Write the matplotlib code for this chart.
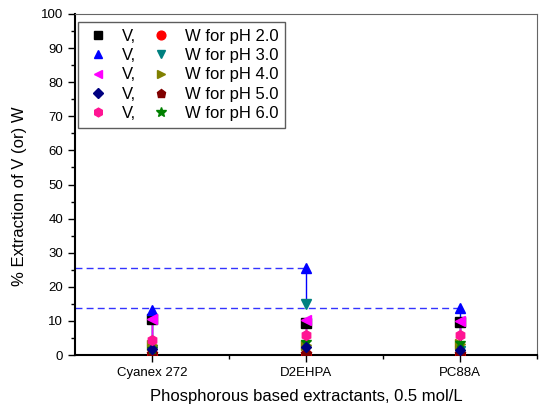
import matplotlib.pyplot as plt
import matplotlib.ticker as mticker

plt.rcParams["font.family"] = ["Liberation Sans", "DejaVu Sans"]

# data
extractants = ["Cyanex 272", "D2EHPA", "PC88A"]
ph_labels = ["pH 2.0", "pH 3.0", "pH 4.0", "pH 5.0", "pH 6.0"]

V_ph2 = [10.7, 9.5, 9.6]
V_ph3 = [13.3, 25.5, 13.8]
V_ph4 = [10.5, 10.2, 10.1]
V_ph5 = [1.8, 2.2, 1.6]
V_ph6 = [4.4, 5.8, 6.0]

W_ph2 = [0.3, 0.3, 0.3]
W_ph3 = [1.5, 15.0, 1.2]
W_ph4 = [2.8, 2.8, 3.2]
W_ph5 = [0.3, 0.3, 0.3]
W_ph6 = [1.8, 3.9, 3.5]

V_all = [V_ph2, V_ph3, V_ph4, V_ph5, V_ph6]
W_all = [W_ph2, W_ph3, W_ph4, W_ph5, W_ph6]

v_colors = ["black", "#0000ff", "#ff00ff", "#000080", "#ff1493"]
w_colors = ["#ff0000", "#008080", "#808000", "#800000", "#008000"]
v_markers = ["s", "^", "<", "D", "h"]
w_markers = ["o", "v", ">", "p", "*"]

x = [1, 2, 3]

fig = plt.figure(figsize=(5.39, 4.09), dpi=100)
ax = fig.add_axes([75 / 539, 1 - 355 / 409, 462 / 539, 341 / 409])

# dashed reference lines
ax.plot([0.5, x[1]], [V_ph3[1], V_ph3[1]], ls=(0, (5, 3)), color="#3333ff", lw=1.0, zorder=1)
ax.plot([0.5, x[2]], [V_ph3[2], V_ph3[2]], ls=(0, (5, 3)), color="#3333ff", lw=1.0, zorder=1)

# vertical connecting lines between V and W
for i in range(5):
    for j in range(3):
        ax.plot([x[j], x[j]], [V_all[i][j], W_all[i][j]], color=v_colors[i], lw=1.0, zorder=2)

v_handles = []
w_handles = []
for i in range(5):
    hv, = ax.plot(x, V_all[i], ls="none", marker=v_markers[i], color=v_colors[i],
                  ms=7 if v_markers[i] != "D" else 5.5, zorder=4)
    hw, = ax.plot(x, W_all[i], ls="none", marker=w_markers[i], color=w_colors[i],
                  ms=7 if w_markers[i] != "*" else 8, zorder=3)
    v_handles.append(hv)
    w_handles.append(hw)

labels = ["V,"] * 5 + ["W for " + p for p in ph_labels]
leg = fig.legend(v_handles + w_handles, labels, ncol=2, loc="upper left",
                 bbox_to_anchor=(78 / 539, 1 - 22 / 409), fontsize=12, frameon=True,
                 fancybox=False, edgecolor="#333333", handlelength=1.6, handletextpad=0.64,
                 columnspacing=0.7, labelspacing=0.26, borderpad=0.4, borderaxespad=0,
                 markerscale=0.9)
leg.get_frame().set_linewidth(1.0)

ax.set_xlim(0.5, 3.5)
ax.set_ylim(0, 100)
ax.set_xticks(x)
ax.set_xticklabels(extractants)
ax.xaxis.set_minor_locator(mticker.FixedLocator([1.5, 2.5, 3.5]))
ax.yaxis.set_major_locator(mticker.MultipleLocator(10))
ax.yaxis.set_minor_locator(mticker.MultipleLocator(5))
ax.tick_params(axis="both", which="major", direction="out", length=5, width=1, labelsize=9.5)
ax.tick_params(axis="both", which="minor", direction="out", length=3, width=1)
for s in ["left", "bottom"]:
    ax.spines[s].set_linewidth(1.5)
for s in ["top", "right"]:
    ax.spines[s].set_color("#666666")

ax.set_xlabel("Phosphorous based extractants, 0.5 mol/L", fontsize=12, labelpad=7)
ax.set_ylabel("% Extraction of V (or) W", fontsize=12)
ax.yaxis.set_label_coords(-0.104, 0.466)

fig.savefig("out.png", dpi=100)
